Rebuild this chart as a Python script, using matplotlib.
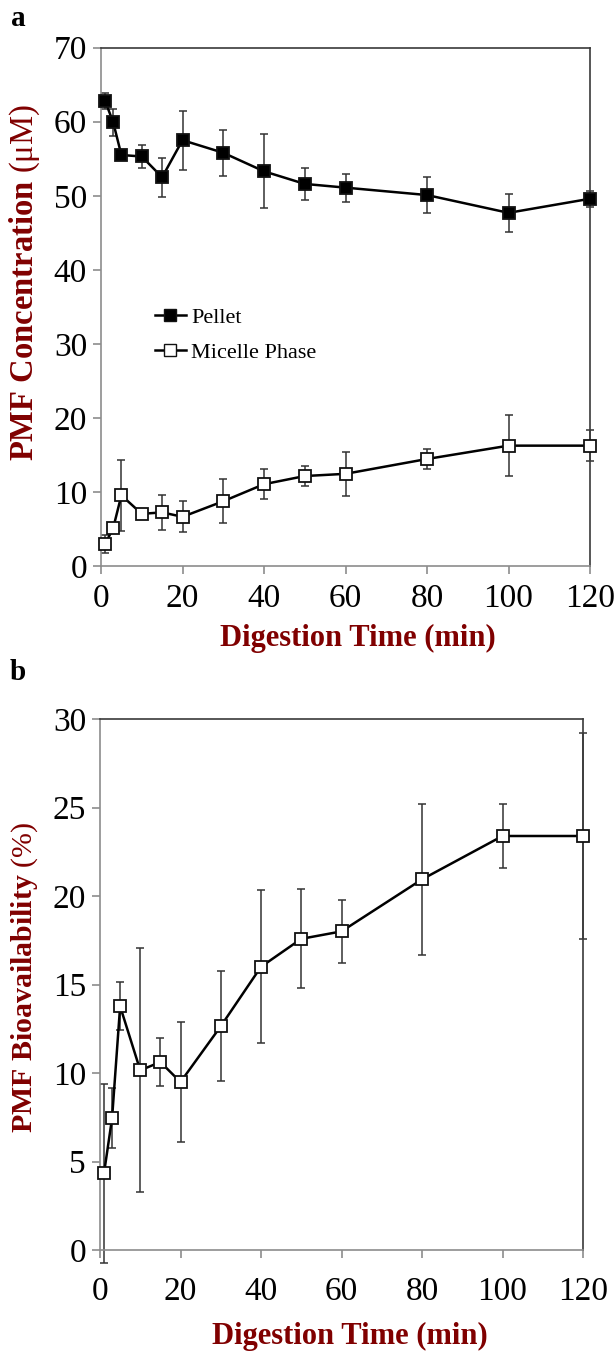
import matplotlib
matplotlib.use("Agg")
from matplotlib import pyplot as plt
from matplotlib.lines import Line2D

plt.rcParams['font.family'] = ['Liberation Serif', 'DejaVu Serif']
plt.rcParams['mathtext.fontset'] = 'custom'
plt.rcParams['mathtext.rm'] = 'Liberation Serif'
plt.rcParams['mathtext.it'] = 'Liberation Serif:italic'

# digestion time (min)
time_min = [1, 3, 5, 10, 15, 20, 30, 40, 50, 60, 80, 100, 120]

# panel a: PMF concentration (uM)
pellet = [62.8, 59.9, 55.5, 55.3, 52.5, 57.5, 55.8, 53.3, 51.6, 51.1, 50.1, 47.7, 49.6]
pellet_err = [1.05, 1.8, 0.3, 1.6, 2.6, 4.0, 3.1, 5.0, 2.2, 1.9, 2.4, 2.6, 1.1]
micelle = [3.0, 5.2, 9.6, 7.1, 7.3, 6.7, 8.8, 11.1, 12.2, 12.5, 14.5, 16.3, 16.3]
micelle_err = [1.2, 0.5, 4.8, 0.4, 2.4, 2.1, 3.0, 2.0, 1.3, 3.0, 1.3, 4.1, 2.1]

# panel b: bioavailability (%)
bioavail = [4.34, 7.45, 13.77, 10.15, 10.62, 9.49, 12.64, 16.0, 17.58, 18.0, 20.94, 23.39, 23.39]
bioavail_err = [5.05, 1.7, 1.35, 6.9, 1.33, 3.4, 3.1, 4.33, 2.8, 1.78, 4.27, 1.78, 5.8]

x_ticks = [0, 20, 40, 60, 80, 100, 120]
label_red = '#800000'
axis_grey = '#8c8c8c'


def style_axes(ax, ymax, ystep, xpad):
	ax.set_xlim(0, 120)
	ax.set_ylim(0, ymax)
	ax.set_xticks(x_ticks)
	ax.set_yticks(range(0, ymax + 1, ystep))
	for s in ['left', 'bottom']:
		ax.spines[s].set_color(axis_grey)
		ax.spines[s].set_linewidth(1.2)
	for s in ['top', 'right']:
		ax.spines[s].set_color('#3a3a3a')
		ax.spines[s].set_linewidth(1.2)
	ax.tick_params(direction='out', length=6, width=1.2, color=axis_grey, labelsize=24)
	ax.tick_params(axis='y', pad=4)
	ax.tick_params(axis='x', pad=xpad)


def draw_series(ax, y, err, face):
	ax.errorbar(time_min, y, yerr=err, fmt='none', ecolor='#333333', elinewidth=1.1,
		capsize=3, capthick=1.1, clip_on=False, zorder=2)
	ax.plot(time_min, y, '-', color='black', lw=1.8, zorder=3, clip_on=False)
	ax.plot(time_min, y, 's', ms=9, mfc=face, mec='#111111', mew=1.3, zorder=4, clip_on=False)


fig = plt.figure(figsize=(6.15, 13.57), dpi=100)

# panel a
ax1 = fig.add_axes([101/615, 1 - 566.5/1357, 489/615, 519/1357])
style_axes(ax1, 70, 10, 6)
draw_series(ax1, pellet, pellet_err, 'black')
draw_series(ax1, micelle, micelle_err, 'white')

h1 = Line2D([], [], color='black', lw=1.8, marker='s', ms=8, mfc='black', mec='#111111')
h2 = Line2D([], [], color='black', lw=1.8, marker='s', ms=8, mfc='white', mec='#111111')
ax1.legend([h1, h2], ['Pellet', 'Micelle Phase'], loc='upper left',
	bbox_to_anchor=(0.11, 0.5), frameon=False, fontsize=16, handlelength=1.4,
	handletextpad=0.25, labelspacing=0.65, borderpad=0, borderaxespad=0)

fig.text(358/615, 1 - 638/1357, 'Digestion Time (min)', ha='center', va='center',
	fontsize=22, fontweight='bold', color=label_red)
fig.text(25/615, 1 - 283/1357, 'PMF Concentration $\\mathrm{(\\mu M)}$', ha='center', va='center',
	rotation=90, fontsize=23.5, fontweight='bold', color=label_red)
fig.text(18/615, 1 - 18/1357, 'a', ha='center', va='center', fontsize=21, fontweight='bold')

# panel b
ax2 = fig.add_axes([100/615, 1 - 1250/1357, 483/615, 531/1357])
style_axes(ax2, 30, 5, 13)
draw_series(ax2, bioavail, bioavail_err, 'white')

fig.text(350/615, 1 - 1336/1357, 'Digestion Time (min)', ha='center', va='center',
	fontsize=22, fontweight='bold', color=label_red)
fig.text(25/615, 1 - 977/1357, 'PMF Bioavailability $\\mathrm{(\\%)}$', ha='center', va='center',
	rotation=90, fontsize=21.5, fontweight='bold', color=label_red)
fig.text(18/615, 1 - 672/1357, 'b', ha='center', va='center', fontsize=21, fontweight='bold')

fig.savefig('out.png', dpi=100)
